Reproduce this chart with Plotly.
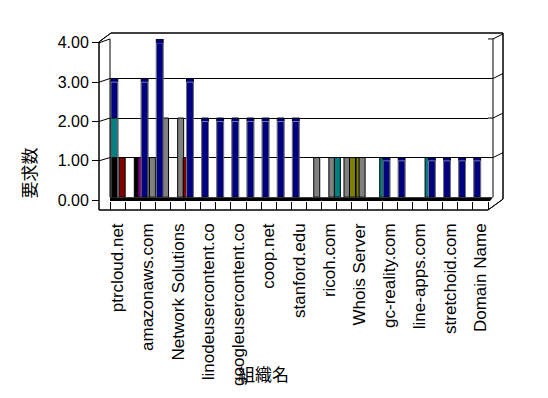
import plotly.graph_objects as go

# ---------------- data ----------------
n_cat = 25
categories = list(range(n_cat))
label_positions = list(range(0, n_cat, 2))
tick_labels = ["ptrcloud.net", "amazonaws.com", "Network Solutions", "linodeusercontent.co",
               "googleusercontent.co", "coop.net", "stanford.edu", "ricoh.com", "Whois Server",
               "gc-reality.com", "line-apps.com", "stretchoid.com", "Domain Name"]
y_ticks = [0, 1, 2, 3, 4]
y_ticktext = ["0.00", "1.00", "2.00", "3.00", "4.00"]

navy_main  = [3, 0, 3, 4, 0, 3, 2, 2, 2, 2, 2, 2, 2, 0, 0, 0, 0, 0, 1, 1, 0, 1, 1, 1, 1]
teal_front = [2, 0, 0, 0, 0, 0, 0, 0, 0, 0, 0, 0, 0, 0, 0, 0, 0, 0, 0, 0, 0, 0, 0, 0, 0]
black_front= [1, 0, 0, 0, 0, 0, 0, 0, 0, 0, 0, 0, 0, 0, 0, 0, 0, 0, 0, 0, 0, 0, 0, 0, 0]
teal_b     = [0, 0, 0, 0, 0, 0, 0, 0, 0, 0, 0, 0, 0, 0, 0, 1, 0, 0, 1, 0, 0, 1, 0, 0, 0]
olive_b    = [0, 0, 0, 0, 0, 0, 0, 0, 0, 0, 0, 0, 0, 0, 0, 0, 1, 0, 0, 0, 0, 0, 0, 0, 0]
maroon_b   = [0, 0, 0, 0, 0, 1, 0, 0, 0, 0, 0, 0, 0, 0, 0, 0, 0, 0, 0, 0, 0, 0, 0, 0, 0]
purple_b   = [0, 0, 1, 0, 0, 0, 0, 0, 0, 0, 0, 0, 0, 0, 0, 0, 0, 0, 0, 0, 0, 0, 0, 0, 0]
maroon_c   = [0, 1, 0, 0, 0, 0, 0, 0, 0, 0, 0, 0, 0, 0, 0, 0, 0, 0, 0, 0, 0, 0, 0, 0, 0]
black_c    = [0, 0, 1, 0, 0, 0, 0, 0, 0, 0, 0, 0, 0, 0, 0, 0, 0, 0, 0, 0, 0, 0, 0, 0, 0]
gray_c     = [0, 0, 0, 1, 0, 0, 0, 0, 0, 0, 0, 0, 0, 0, 0, 0, 0, 0, 0, 0, 0, 0, 0, 0, 0]
gray_d     = [0, 0, 0, 0, 2, 2, 0, 0, 0, 0, 0, 0, 0, 0, 1, 1, 1, 1, 0, 0, 0, 0, 0, 0, 0]
olive_e    = [0, 0, 0, 1, 0, 0, 0, 0, 0, 0, 0, 0, 0, 0, 0, 0, 0, 1, 0, 0, 0, 0, 0, 0, 0]

# ---------------- geometry ----------------
W, H = 548, 398
ML, MR, MT, MB = 99, 60, 33, 186
PW, PH = W - ML - MR, H - MT - MB

def px(x):
    return (x - ML) / PW

def py(y):
    return (H - MB - y) / PH

CAT_PX = 378 / n_cat
def slot(a, b):
    return dict(offset=a / CAT_PX, width=(b - a) / CAT_PX)

SLOT_A = slot(-6.6, 0.2)
SLOT_B = slot(-10.0, -4.0)
SLOT_C = slot(-13.5, -7.5)
SLOT_D = slot(-15.5, -9.5)
SLOT_E = slot(-18.5, -12.5)

NAVY, TEAL, MAROON, PURPLE, OLIVE, GRAY, BLACK = (
    "#000080", "#008080", "#800000", "#800080", "#808000", "#808080", "#000000")

def nz(vals):
    return [v if v else None for v in vals]

fig = go.Figure()
draw = [
    (olive_e, OLIVE, SLOT_E), (gray_d, GRAY, SLOT_D), (gray_c, GRAY, SLOT_C),
    (black_c, BLACK, SLOT_C), (maroon_c, MAROON, SLOT_C), (purple_b, PURPLE, SLOT_B),
    (maroon_b, MAROON, SLOT_B), (teal_b, TEAL, SLOT_B), (olive_b, OLIVE, SLOT_B),
    (navy_main, NAVY, SLOT_A), (teal_front, TEAL, SLOT_A), (black_front, BLACK, SLOT_A),
]
for vals, col, sl in draw:
    fig.add_trace(go.Bar(x=categories, y=nz(vals), marker=dict(color=col, line=dict(color="black", width=1)),
                         offset=sl["offset"], width=sl["width"], showlegend=False, hoverinfo="skip"))
# invisible trace that carries the front (labelled) value axis
fig.add_trace(go.Bar(x=categories, y=nz(navy_main), yaxis="y2", marker=dict(color="rgba(0,0,0,0)"),
                     offset=SLOT_A["offset"], width=SLOT_A["width"], showlegend=False, hoverinfo="skip"))

# ---------------- decoration shapes (3D frame) ----------------
def seg(x0, y0, x1, y1, layer="above"):
    return dict(type="line", xref="paper", yref="paper", x0=px(x0), y0=py(y0), x1=px(x1), y1=py(y1),
                line=dict(color="black", width=1), layer=layer)

def back_y(v):   # back wall scale
    return 199 - 40 * v

def front_y(v):  # front (left axis) scale
    return 202 - 39.75 * v

shapes = []
shapes.append(dict(type="path", xref="paper", yref="paper", layer="below",
                   path="M {} {} L {} {} L {} {} L {} {} L {} {} L {} {} Z".format(
                       px(99), py(42), px(111), py(33), px(503), py(33), px(503), py(201),
                       px(488), py(212), px(99), py(212)),
                   fillcolor="white", line=dict(color="black", width=1)))
shapes += [seg(99, 42, 111, 33), seg(99, 42, 99, 212), seg(110, 39, 110, 199)]
shapes += [seg(111, 33, 503, 33), seg(503, 33, 503, 201), seg(503, 201, 488, 212)]
shapes += [seg(493, 39, 493, 199)]
for v in y_ticks[1:]:
    shapes.append(seg(488, back_y(v), 493, back_y(v)))
    shapes.append(seg(493, back_y(v), 503, back_y(v) - 5))
    shapes.append(seg(99, front_y(v), 110, back_y(v)))
shapes.append(dict(type="path", xref="paper", yref="paper", layer="above",
                   path="M {} {} L {} {} L {} {} L {} {} Z".format(
                       px(110), py(199), px(493), py(199), px(490), py(203), px(110), py(203)),
                   fillcolor="black", line=dict(color="black", width=0)))
shapes.append(seg(99, 212, 488, 212))

fig.update_layout(
    width=W, height=H, margin=dict(l=ML, r=MR, t=MT, b=MB),
    paper_bgcolor="white", plot_bgcolor="rgba(0,0,0,0)",
    barmode="overlay", showlegend=False, shapes=shapes,
    font=dict(family="Liberation Sans", color="black"),
    xaxis=dict(domain=[px(110), 1], range=[-0.5, n_cat - 0.5], anchor="free", position=0,
               tickmode="array", tickvals=label_positions, ticktext=tick_labels, tickangle=-90,
               ticks="", showgrid=False, zeroline=False, showline=False,
               tickfont=dict(size=17, family="Liberation Sans"), ticklabelstandoff=9,
               minor=dict(tickvals=[k - 0.5 for k in range(n_cat + 1)], ticks="inside", ticklen=8,
                          tickcolor="black", showgrid=False)),
    yaxis=dict(domain=[py(199), py(39)], range=[0, 4], tickvals=y_ticks, showticklabels=False,
               showgrid=True, gridcolor="black", gridwidth=1, zeroline=False, showline=False, ticks=""),
    yaxis2=dict(domain=[py(202), py(43)], range=[0, 4], anchor="free", position=0, side="left",
                tickvals=y_ticks, ticktext=y_ticktext, ticks="outside", ticklen=7, tickcolor="black",
                showgrid=False, zeroline=False, showline=False,
                tickfont=dict(size=16, family="Liberation Sans")),
    annotations=[
        dict(text="要求数", xref="paper", yref="paper", x=px(28), y=py(175), showarrow=False,
             xanchor="center", yanchor="middle",
             textangle=-90, font=dict(size=17, family="Noto Sans CJK JP")),
        dict(text="組織名", xref="paper", yref="paper", x=px(263), y=py(377), showarrow=False,
             xanchor="center", yanchor="middle",
             font=dict(size=17, family="Noto Sans CJK JP")),
    ],
)

fig.write_html("out.html", config={"displayModeBar": False, "staticPlot": True},
               post_script=["document.body.style.margin='0';"])
